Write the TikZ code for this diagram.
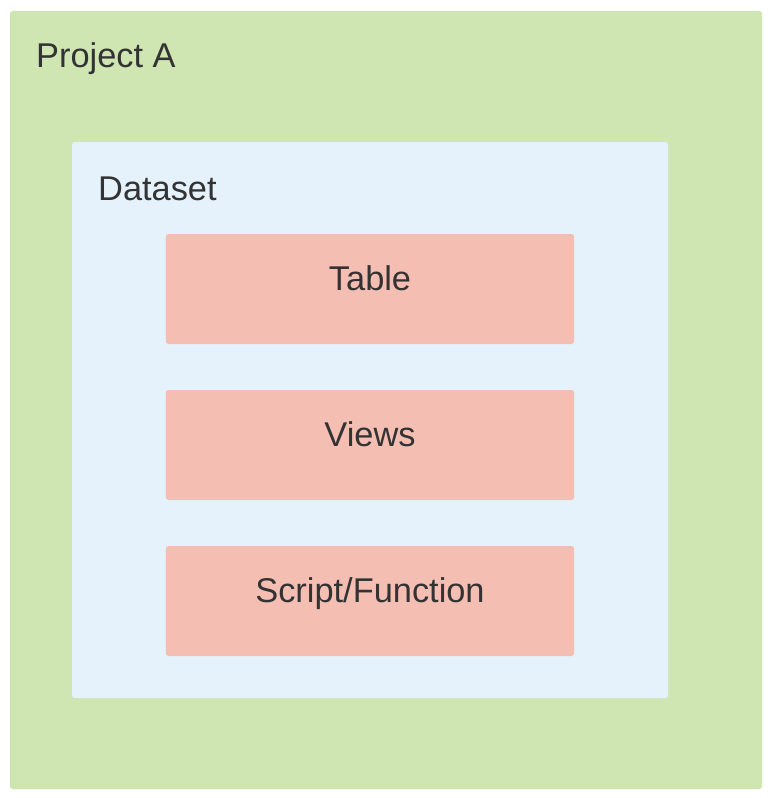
\documentclass[tikz,border=0pt]{standalone}
\usepackage{fontspec}
\setmainfont{Liberation Sans}
\definecolor{projgreen}{HTML}{CFE5B2}
\definecolor{dsblue}{HTML}{E5F1FB}
\definecolor{itemred}{HTML}{F4BEB2}
\definecolor{txt}{HTML}{333333}
\tikzset{
  box/.style={rounded corners=2.5bp, draw=none},
  item/.style={box, fill=itemred, minimum width=408bp, minimum height=110bp, inner sep=0pt},
  lbl/.style={text=txt, font=\fontsize{34.5}{40}\selectfont, inner sep=0pt},
}
\begin{document}
\begin{tikzpicture}[x=1bp,y=-1bp]
\useasboundingbox (0,0) rectangle (772,798);
\fill[white] (0,0) rectangle (772,798);
\fill[box, fill=projgreen] (10,11) rectangle (762,789);
\fill[box, fill=dsblue] (72,142) rectangle (668,698);
\node[lbl, anchor=base west] (proj) at (36,68) {Project A};
\node[lbl, anchor=base west] (ds) at (98,200) {Dataset};
\node[item] (table) at (370,289) {};
\node[item] (views) at (370,445) {};
\node[item] (script) at (370,601) {};
\node[lbl, anchor=base] (tablet) at (370,290) {Table};
\node[lbl, anchor=base] (viewst) at (370,446) {Views};
\node[lbl, anchor=base] (scriptt) at (370,602) {Script/Function};
\end{tikzpicture}
\end{document}
